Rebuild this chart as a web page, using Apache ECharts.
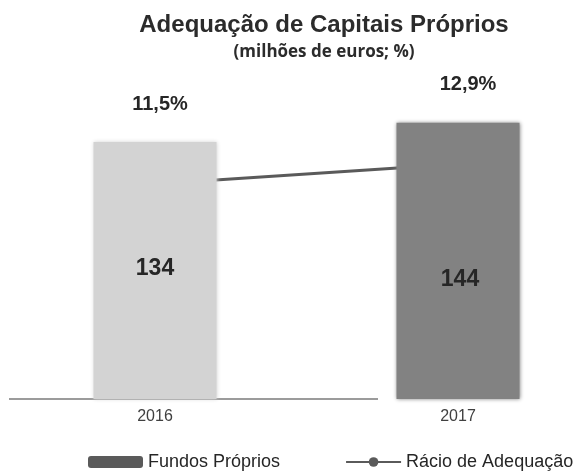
<!DOCTYPE html>
<html>
<head>
<meta charset="utf-8">
<script src="https://cdn.jsdelivr.net/npm/echarts@6/dist/echarts.min.js"></script>
<style>html,body{margin:0;padding:0;background:#fff}#c{width:578px;height:475px}</style>
</head>
<body>
<div id="c"></div>
<script>
const categories = ['2016', '2017'];
const fundosProprios = [134, 144];
const racioAdequacao = [11.5, 12.9];
const barColors = ['#d3d3d3', '#828282'];
const seriesNames = ['Fundos Próprios', 'Rácio de Adequação'];
const titleText = 'Adequação de Capitais Próprios';
const subtitleText = '(milhões de euros; %)';

const chart = echarts.init(document.getElementById('c'), null, {renderer: 'canvas'});
const option = {
  backgroundColor: '#ffffff',
  animation: false,
  title: [
    {text: titleText, left: 324, top: 13, padding: 0, textAlign: 'center',
     textStyle: {fontFamily: 'Liberation Sans, Arial', fontWeight: 'bold', fontSize: 24, color: '#2b2b2b'}},
    {text: subtitleText, left: 324, top: 44, padding: 0, textAlign: 'center',
     textStyle: {fontFamily: 'Open Sans', fontWeight: 'bold', fontSize: 17, color: '#2b2b2b'}}
  ],
  legend: {
    left: 88, top: 453, itemWidth: 55, itemHeight: 12, itemGap: 65, padding: 0,
    textStyle: {fontFamily: 'Liberation Sans, Arial', fontSize: 18, color: '#262626'},
    data: [{name: seriesNames[0], icon: 'roundRect'}, {name: seriesNames[1]}]
  },
  grid: {left: 155, right: 120, top: 92, bottom: 76},
  xAxis: {
    type: 'category', data: categories, boundaryGap: false,
    axisLine: {show: false}, axisTick: {show: false},
    axisLabel: {margin: 10, fontFamily: 'Liberation Sans, Arial', fontSize: 16, color: '#404040'}
  },
  yAxis: [
    {type: 'value', min: 0, max: 160, show: false, splitLine: {show: false}},
    {type: 'value', min: -3.55, max: 17.93, show: false, splitLine: {show: false}}
  ],
  graphic: [{
    type: 'line', shape: {x1: 9, y1: 399, x2: 378, y2: 399},
    style: {stroke: '#7a7a7a', lineWidth: 1.5}, z: 0
  }],
  series: [
    {
      name: seriesNames[1], type: 'line', yAxisIndex: 1, z: 1,
      data: racioAdequacao.map((v, i) => ({value: v, label: {offset: i === 0 ? [5, 0] : [10, 0]}})),
      symbol: 'circle', symbolSize: 7,
      lineStyle: {color: '#5a5a5a', width: 3},
      itemStyle: {color: '#5a5a5a'},
      label: {show: true, position: 'top', distance: 66,
        formatter: p => p.value.toFixed(1).replace('.', ',') + '%',
        fontFamily: 'Liberation Sans, Arial', fontWeight: 'bold', fontSize: 20, color: '#262626'}
    },
    {
      name: seriesNames[0], type: 'bar', z: 2, barWidth: 123,
      itemStyle: {color: '#5a5a5a'},
      data: fundosProprios.map((v, i) => ({
        value: v,
        itemStyle: {color: barColors[i], shadowBlur: 4, shadowColor: barColors[i]},
        label: {offset: i === 0 ? [0, -2] : [2, 19]}
      })),
      label: {show: true, position: 'inside',
        fontFamily: 'Liberation Sans, Arial', fontWeight: 'bold', fontSize: 23, color: '#262626'}
    }
  ]
};
chart.setOption(option);
</script>
</body>
</html>
